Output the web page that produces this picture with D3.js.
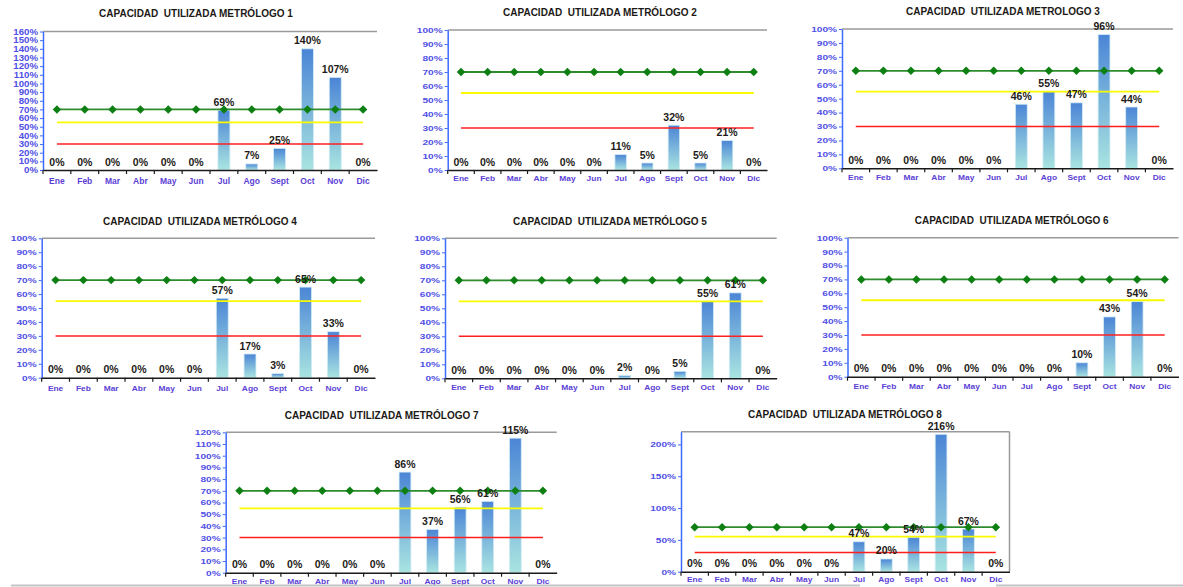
<!DOCTYPE html>
<html>
<head>
<meta charset="utf-8">
<script src="https://cdn.jsdelivr.net/npm/d3@7"></script>
<style>
  body { margin: 0; background: #fff; }
  svg { display: block; }
  text { font-family: "Liberation Sans", Arial, sans-serif; }
</style>
</head>
<body>
<svg id="chart" width="1183" height="587"></svg>
<script>
// Months of the year (x categories)
const months = ["Ene", "Feb", "Mar", "Abr", "May", "Jun", "Jul", "Ago", "Sept", "Oct", "Nov", "Dic"];

// Chart titles
const titles = [
  "CAPACIDAD  UTILIZADA METRÓLOGO 1",
  "CAPACIDAD  UTILIZADA METRÓLOGO 2",
  "CAPACIDAD  UTILIZADA METROLOGO 3",
  "CAPACIDAD  UTILIZADA METRÓLOGO 4",
  "CAPACIDAD  UTILIZADA METRÓLOGO 5",
  "CAPACIDAD  UTILIZADA METRÓLOGO 6",
  "CAPACIDAD  UTILIZADA METRÓLOGO 7",
  "CAPACIDAD  UTILIZADA METRÓLOGO 8"
];

// Used capacity (%) per metrologist, by month
const metrologo1 = [0, 0, 0, 0, 0, 0, 69, 7, 25, 140, 107, 0];
const metrologo2 = [0, 0, 0, 0, 0, 0, 11, 5, 32, 5, 21, 0];
const metrologo3 = [0, 0, 0, 0, 0, 0, 46, 55, 47, 96, 44, 0];
const metrologo4 = [0, 0, 0, 0, 0, 0, 57, 17, 3, 65, 33, 0];
const metrologo5 = [0, 0, 0, 0, 0, 0, 2, 0, 5, 55, 61, 0];
const metrologo6 = [0, 0, 0, 0, 0, 0, 0, 0, 10, 43, 54, 0];
const metrologo7 = [0, 0, 0, 0, 0, 0, 86, 37, 56, 61, 115, 0];
const metrologo8 = [0, 0, 0, 0, 0, 0, 47, 20, 54, 216, 67, 0];

// Reference levels (%): target, upper and lower limits
const meta = [70, 70, 70, 70, 70, 70, 70, 70, 70, 70, 70, 70];
const limiteAlto = [55, 55, 55, 55, 55, 55, 55, 55, 55, 55, 55, 55];
const limiteBajo = [30, 30, 30, 30, 30, 30, 30, 30, 30, 30, 30, 30];

// Y axis tick values (%)
const ticks160 = [0, 10, 20, 30, 40, 50, 60, 70, 80, 90, 100, 110, 120, 130, 140, 150, 160];
const ticks100 = [0, 10, 20, 30, 40, 50, 60, 70, 80, 90, 100];
const ticks120 = [0, 10, 20, 30, 40, 50, 60, 70, 80, 90, 100, 110, 120];
const ticks220 = [0, 50, 100, 150, 200];

const series = [metrologo1, metrologo2, metrologo3, metrologo4, metrologo5, metrologo6, metrologo7, metrologo8];
const yMax = [160, 100, 100, 100, 100, 100, 120, 220];
const yTicks = [ticks160, ticks100, ticks100, ticks100, ticks100, ticks100, ticks120, ticks220];

// Panel placement on the page
const panels = [
  { left: 43,    right: 377,    top: 31.5,  bottom: 170,   tx: 196,   ty: 17,    xl: 14.5, yFont: 8.2, ySx: 1.18, xFont: 8.5, xSx: 1.0 },
  { left: 447.7, right: 767,    top: 30,    bottom: 170,   tx: 600,   ty: 16,    xl: 12,   yFont: 7.5, ySx: 1.35, xFont: 7,   xSx: 1.2 },
  { left: 842,   right: 1173,   top: 29,    bottom: 168.3, tx: 1003,  ty: 14.5,  xl: 12.5, yFont: 7.5, ySx: 1.35, xFont: 7,   xSx: 1.2 },
  { left: 41.7,  right: 375,    top: 238.3, bottom: 377.7, tx: 200,   ty: 224.5, xl: 13.5, yFont: 7.5, ySx: 1.35, xFont: 7,   xSx: 1.2 },
  { left: 445,   right: 776.7,  top: 238.3, bottom: 378.3, tx: 610,   ty: 224.5, xl: 12.7, yFont: 7.5, ySx: 1.35, xFont: 7,   xSx: 1.2 },
  { left: 847.5, right: 1178.5, top: 237.7, bottom: 376.7, tx: 1011.7,ty: 223.8, xl: 13.3, yFont: 7.5, ySx: 1.35, xFont: 7,   xSx: 1.2 },
  { left: 225.7, right: 556.7,  top: 432.3, bottom: 572.7, tx: 381.7, ty: 418.8, xl: 11.5, yFont: 7.5, ySx: 1.35, xFont: 7,   xSx: 1.2 },
  { left: 681,   right: 1009.5, top: 431.7, bottom: 571.7, tx: 845,   ty: 417.8, xl: 11,   yFont: 7.5, ySx: 1.35, xFont: 7,   xSx: 1.2, boxed: true }
];

const svg = d3.select("#chart");

// Vertical blue-to-aqua fill for the bars
const grad = svg.append("defs").append("linearGradient")
  .attr("id", "barFill").attr("x1", 0).attr("y1", 0).attr("x2", 0).attr("y2", 1);
grad.append("stop").attr("offset", "0%").attr("stop-color", "#4b85d6");
grad.append("stop").attr("offset", "100%").attr("stop-color", "#a9e4e1");

panels.forEach((p, i) => {
  const values = series[i];
  const rows = months.map((m, j) => ({ m, v: values[j], meta: meta[j], alto: limiteAlto[j], bajo: limiteBajo[j] }));

  const x = d3.scaleBand().domain(months).range([p.left, p.right]);
  const y = d3.scaleLinear().domain([0, yMax[i]]).range([p.bottom, p.top]);
  const cx = m => x(m) + x.bandwidth() / 2;
  const barW = x.bandwidth() * 0.43;

  const g = svg.append("g");

  // Title
  g.append("text")
    .attr("x", p.tx).attr("y", p.ty)
    .attr("text-anchor", "middle")
    .style("white-space", "pre")
    .attr("font-weight", "bold").attr("font-size", 10)
    .attr("fill", "#1d1a16")
    .text(titles[i]);

  // Plot frame (top edge, and right edge on the boxed panel)
  g.append("line")
    .attr("x1", p.left).attr("x2", p.right)
    .attr("y1", p.top).attr("y2", p.top)
    .attr("stroke", "#9a9a9a").attr("stroke-width", 1.5);
  if (p.boxed) {
    g.append("line")
      .attr("x1", p.right).attr("x2", p.right)
      .attr("y1", p.top).attr("y2", p.bottom)
      .attr("stroke", "#9a9a9a").attr("stroke-width", 1.5);
  }

  // Bars
  g.selectAll("rect.bar").data(rows.filter(d => d.v > 0)).join("rect")
    .attr("class", "bar")
    .attr("x", d => cx(d.m) - barW / 2)
    .attr("width", barW)
    .attr("y", d => y(d.v))
    .attr("height", d => y(0) - y(d.v))
    .attr("fill", "url(#barFill)")
    .attr("stroke", "#d3ecf4").attr("stroke-width", 0.8);

  // Lower and upper limit lines
  const lineGen = key => d3.line().x(d => cx(d.m)).y(d => y(d[key]));
  g.append("path").datum(rows)
    .attr("d", lineGen("bajo"))
    .attr("fill", "none").attr("stroke", "#ff1f1f").attr("stroke-width", 1.5);
  g.append("path").datum(rows)
    .attr("d", lineGen("alto"))
    .attr("fill", "none").attr("stroke", "#f9f900").attr("stroke-width", 1.8);

  // Target line with diamond markers
  g.append("path").datum(rows)
    .attr("d", lineGen("meta"))
    .attr("fill", "none").attr("stroke", "#2e8c2e").attr("stroke-width", 1.8);
  g.selectAll("path.mk").data(rows).join("path")
    .attr("class", "mk")
    .attr("d", d3.symbol(d3.symbolSquare, 36)())
    .attr("transform", d => `translate(${cx(d.m)},${y(d.meta)}) rotate(45)`)
    .attr("fill", "#0e7f12");

  // Y axis
  const ya = g.append("g")
    .attr("transform", `translate(${p.left},0)`)
    .call(d3.axisLeft(y).tickValues(yTicks[i]).tickSize(3).tickSizeOuter(0).tickPadding(2).tickFormat(d => d + "%"));
  ya.select(".domain").attr("stroke", "#3d6bff").attr("stroke-width", 1.5);
  ya.selectAll(".tick line").attr("stroke", "#3d6bff");
  ya.selectAll(".tick text")
    .attr("font-family", "Liberation Sans, Arial, sans-serif")
    .attr("font-weight", "bold").attr("font-size", p.yFont)
    .attr("fill", "#5050e6")
    .attr("x", -5 / p.ySx)
    .attr("transform", `scale(${p.ySx},1)`);

  // X axis
  const xa = g.append("g")
    .attr("transform", `translate(0,${p.bottom})`)
    .call(d3.axisBottom(x).tickSize(0).tickSizeOuter(0).tickPadding(p.xl - 3));
  xa.select(".domain").attr("stroke", "#1a1a1a").attr("stroke-width", 1.6);
  xa.selectAll(".tick text")
    .attr("font-family", "Liberation Sans, Arial, sans-serif")
    .attr("font-weight", "bold").attr("font-size", p.xFont)
    .attr("fill", "#5b3fd6")
    .attr("dy", "0.35em")
    .attr("transform", `scale(${p.xSx},1)`);
  // Category boundary ticks
  g.selectAll("line.bt").data(months).join("line")
    .attr("class", "bt")
    .attr("x1", d => x(d)).attr("x2", d => x(d))
    .attr("y1", p.bottom).attr("y2", p.bottom + 4)
    .attr("stroke", "#1a1a1a").attr("stroke-width", 1.2);

  // Value labels
  g.selectAll("text.val").data(rows).join("text")
    .attr("class", "val")
    .attr("x", d => cx(d.m))
    .attr("y", d => y(d.v) - 4.5)
    .attr("text-anchor", "middle")
    .attr("font-weight", "bold").attr("font-size", 10.5)
    .attr("fill", "#1e1b18")
    .text(d => d.v + "%");
});

// Page separators at the bottom
svg.append("line").attr("x1", 11).attr("x2", 860).attr("y1", 585.5).attr("y2", 585.5)
  .attr("stroke", "#c4c4c4").attr("stroke-width", 2);
svg.append("line").attr("x1", 996).attr("x2", 1183).attr("y1", 585.5).attr("y2", 585.5)
  .attr("stroke", "#c4c4c4").attr("stroke-width", 2);
</script>
</body>
</html>
